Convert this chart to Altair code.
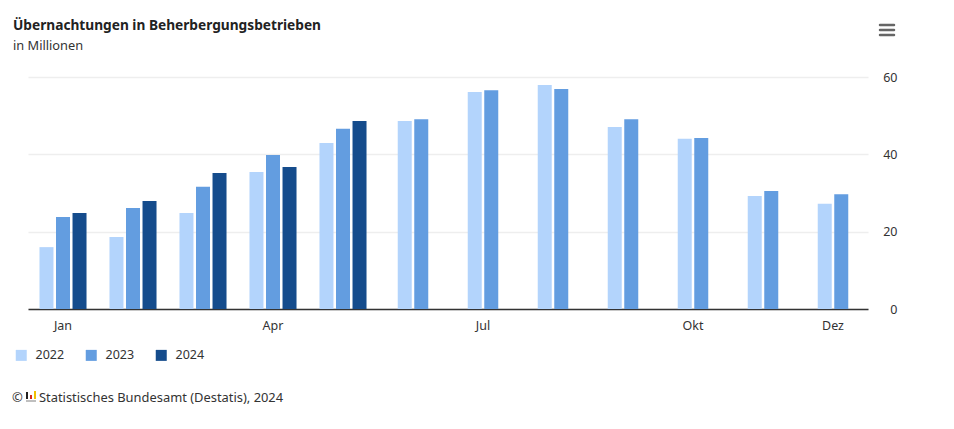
import altair as alt
import pandas as pd

months = ["Jan", "Feb", "Mär", "Apr", "Mai", "Jun", "Jul", "Aug", "Sep", "Okt", "Nov", "Dez"]
years = ["2022", "2023", "2024"]
v2022 = [16.0, 18.6, 24.8, 35.4, 42.9, 48.6, 56.1, 57.9, 47.1, 44.0, 29.2, 27.2]
v2023 = [23.8, 26.1, 31.6, 39.8, 46.6, 49.1, 56.6, 56.9, 49.1, 44.2, 30.5, 29.7]
v2024 = [24.8, 27.9, 35.2, 36.7, 48.6]
tick_labels = ["Jan", "Apr", "Jul", "Okt", "Dez"]
colors = ["#b3d4fc", "#639de0", "#154c8c"]

rows = []
for y, vals in zip(years, [v2022, v2023, v2024]):
    for m, v in zip(months, vals):
        rows.append({"Monat": m, "Jahr": y, "Wert": v})
df = pd.DataFrame(rows)

FONT = "Noto Sans"

bars = (
    alt.Chart(df)
    .transform_joinaggregate(n="count()", groupby=["Monat"])
    .transform_calculate(
        slot="datum.n == 3 ? indexof(['2022','2023','2024'], datum.Jahr) * 2 : indexof(['2022','2023','2024'], datum.Jahr) * 2 + 1"
    )
    .mark_bar(width=14)
    .encode(
        x=alt.X(
            "Monat:N",
            sort=months,
            scale=alt.Scale(domain=months, paddingInner=0.41, paddingOuter=0.205),
            axis=alt.Axis(
                title=None,
                values=tick_labels,
                ticks=False,
                domainColor="#333333",
                domainWidth=1.5,
                labelAngle=0,
                labelFont=FONT,
                labelFontSize=12.5,
                labelColor="#333333",
                labelPadding=10,
                grid=False,
            ),
        ),
        xOffset=alt.XOffset(
            "slot:O",
            scale=alt.Scale(domain=[0, 1, 2, 3, 4], paddingInner=0, paddingOuter=0),
        ),
        y=alt.Y(
            "Wert:Q",
            scale=alt.Scale(domain=[0, 60], nice=False),
            axis=alt.Axis(
                title=None,
                orient="right",
                values=[0, 20, 40, 60],
                ticks=False,
                domain=False,
                gridColor="#eeeeee",
                gridWidth=1.5,
                labelFont=FONT,
                labelFontSize=12.5,
                labelColor="#333333",
                labelAlign="right",
                labelPadding=29,
            ),
        ),
        color=alt.Color(
            "Jahr:N",
            scale=alt.Scale(domain=years, range=colors),
            legend=alt.Legend(
                title=None,
                orient="none",
                legendX=-13,
                legendY=272,
                direction="horizontal",
                symbolType="square",
                symbolSize=121,
                symbolStrokeWidth=0,
                labelFont=FONT,
                labelFontSize=12.5,
                labelColor="#333333",
                labelOffset=8,
                columnPadding=20,
            ),
        ),
    )
)

info = pd.DataFrame({
    "titel": ["Übernachtungen in Beherbergungsbetrieben"],
    "sub": ["in Millionen"],
    "quelle": ["Statistisches Bundesamt (Destatis), 2024"],
    "copy": ["©"],
})

title = alt.Chart(info).mark_text(
    align="left", baseline="alphabetic", font=FONT, fontSize=13.7, fontWeight="bold", color="#222222"
).encode(text="titel:N", x=alt.value(-15), y=alt.value(-47))

subtitle = alt.Chart(info).mark_text(
    align="left", baseline="alphabetic", font=FONT, fontSize=12.8, color="#333333"
).encode(text="sub:N", x=alt.value(-15), y=alt.value(-27))

copy = alt.Chart(info).mark_text(
    align="left", baseline="alphabetic", font=FONT, fontSize=13, color="#333333"
).encode(text="copy:N", x=alt.value(-16), y=alt.value(325))

source = alt.Chart(info).mark_text(
    align="left", baseline="alphabetic", font=FONT, fontSize=12.9, color="#333333"
).encode(text="quelle:N", x=alt.value(11), y=alt.value(325))

# small Destatis logo (decorative)
logo_black = alt.Chart(info).mark_rule(color="#222222", strokeWidth=2).encode(
    x=alt.value(-1), y=alt.value(315), y2=alt.value(322))
logo_red = alt.Chart(info).mark_rule(color="#d52b1e", strokeWidth=2).encode(
    x=alt.value(3), y=alt.value(318), y2=alt.value(322))
logo_yellow = alt.Chart(info).mark_rule(color="#f2c200", strokeWidth=2).encode(
    x=alt.value(7), y=alt.value(314), y2=alt.value(322))
logo_base = alt.Chart(info).mark_rule(color="#aaaaaa", strokeWidth=1.5).encode(
    x=alt.value(-2), x2=alt.value(8), y=alt.value(324))

# menu icon (decorative)
menu = [
    alt.Chart(info).mark_rule(color="#666666", strokeWidth=2.5, strokeCap="round").encode(
        x=alt.value(852), x2=alt.value(866), y=alt.value(yy))
    for yy in (-52, -47, -42)
]

chart = alt.layer(
    bars, title, subtitle, copy, source, logo_black, logo_red, logo_yellow, logo_base, *menu
).properties(
    width=840,
    height=232,
    autosize=alt.AutoSizeParams(type="none"),
    padding={"left": 20, "top": 69, "right": 70, "bottom": 100},
    background="white",
).configure_view(stroke=None)

chart.save("out.html", embed_options={"renderer": "svg", "actions": False})
